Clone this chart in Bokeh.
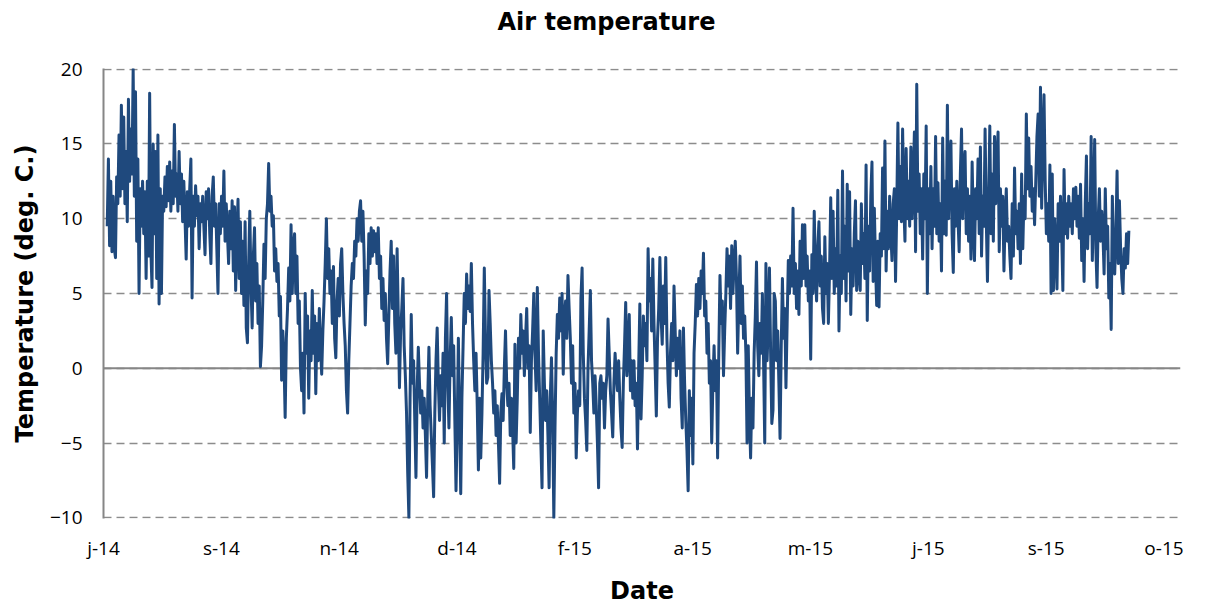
import pandas as pd
from bokeh.plotting import figure
from bokeh.models import Range1d, FixedTicker, Span, Title
from bokeh.embed import file_html
from bokeh.resources import INLINE

# ---- data: air temperature (deg. C), 12-hourly readings ----
start_time = "2014-07-30 14:00"
step = "12h"

seg_aug_sep_2014 = [9.5, 14.0, 8.2, 12.5, 7.8, 11.5, 8.0, 7.4, 12.8, 11.0,
    15.6, 11.5, 17.6, 12.0, 16.8, 11.0, 14.5, 9.8, 18.0, 12.5,
    16.0, 13.0, 20.0, 11.5, 18.5, 8.5, 14.0, 5.0, 12.0, 9.5,
    12.5, 9.0, 11.8, 6.0, 12.5, 7.5, 18.4, 8.0, 5.4, 15.0,
    9.0, 14.5, 6.0, 15.6, 4.3, 12.0, 5.0, 11.5, 10.5, 12.8,
    10.8, 13.5, 11.2, 13.8, 10.5, 13.2, 11.0, 16.3, 11.5, 13.0,
    10.5, 14.5, 11.0, 13.0, 9.8, 12.5, 10.0, 7.3, 11.8, 9.5,
    12.0, 14.0, 4.7, 11.5, 9.5, 12.2, 10.2, 11.5, 8.0, 11.0,
    9.8, 11.5, 9.5, 7.6, 11.8, 10.0, 12.0, 9.0, 7.0, 11.5,
    12.8, 9.5, 11.0, 8.0, 5.0, 11.0, 9.0, 11.5, 9.5, 13.2,
    8.5, 11.0, 9.0, 7.0]

seg_sep_nov_2014 = [10.5, 8.0, 11.2, 6.5, 10.8, 5.2, 9.0, 11.3, 6.0, 9.8,
    5.0, 8.5, 4.2, 9.8, 2.7, 1.7, 7.0, 10.5, 5.5, 2.7,
    7.5, 9.4, 4.5, 7.0, 3.0, 5.5, 0.1, 1.5, 4.5, 8.3,
    6.0, 10.0, 11.0, 13.7, 10.5, 11.5, 9.5, 10.2, 6.5, 8.0,
    5.8, 7.0, 3.5, 4.8, -0.8, 2.5, 0.5, -3.3, 2.0, 4.0,
    6.7, 4.5, 9.6, 5.0, 8.0, 9.0, 5.0, 7.5, 3.0, 4.5,
    0.0, -1.5, 1.0, -3.0, 5.0, 1.0, 3.5, -2.0, 2.5, 0.5,
    5.2, 1.0, 3.5, -1.7, 3.0, 0.5, 4.0, 1.5, -0.4, 2.5,
    4.5, 7.0, 10.0, 6.0, 8.0, 5.0, 6.5, 3.0, 6.8, 2.0,
    0.7, 4.5, 6.0, 3.5, 7.0, 8.0, 5.0, 3.0, 1.5, -1.5,
    -3.0, 0.5, 3.0, 5.5, 7.0, 6.0, 8.5, 7.5, 10.0, 8.5,
    10.5]

seg_nov_2014_jan_2015 = [11.2, 8.5, 10.5, 7.5, 2.9, 6.5, 5.0, 9.0, 7.0, 9.4,
    7.5, 9.2, 7.8, 9.0, 7.0, 9.4, 6.0, 7.5, 4.0, 6.0,
    3.2, 5.0, 2.0, 0.3, 3.5, 6.5, 8.5, 4.0, 7.5, 3.0,
    1.0, 8.0, 3.5, -1.3, 2.5, 4.0, 6.0, 1.5, -0.5, -3.0,
    -7.0, -10.0, -2.0, 3.6, -1.0, 0.5, -3.5, -7.3, -1.5, 1.4,
    -1.0, -3.0, -1.5, -4.0, -2.0, -4.5, -7.3, -2.0, 1.4, -2.5,
    -4.5, -6.5, -8.6, -3.0, 0.5, 2.7, -1.0, -3.5, -0.5, -2.5,
    1.0, -5.0, 2.0, 5.0, -1.0, -4.0, 0.5, 3.4, -0.5, 1.5,
    -3.5, -8.2, -4.0, 2.0, -3.0, -8.4, -2.0, 1.5, 5.0, 3.0,
    6.3, 4.0, 5.5, 3.8, 7.0, 3.0, 0.5, -1.5, 1.0, -2.5,
    -6.8, -2.0, -6.0, -3.0, 1.0, 6.7, 2.0, -1.0, -0.6, 5.2]

seg_jan_mar_2015 = [3.0, 0.5, -1.0, -3.0, -1.5, -4.5, -2.5, -5.0, -7.7, -3.0,
    -1.7, -3.5, 0.0, 2.5, -1.0, -2.5, -1.0, -4.5, -2.0, -4.0,
    -6.7, 1.6, -5.0, -2.0, 2.0, 0.0, 3.6, 1.0, 2.5, -0.5,
    2.0, 4.0, 0.0, 1.5, -4.3, 0.5, 2.5, 5.0, 1.0, -1.5,
    5.4, 1.0, -2.0, -5.0, -8.0, 2.5, -1.0, -3.5, -1.5, -4.5,
    -8.0, -2.0, 0.7, -3.0, -10.0, -4.0, 1.0, 3.6, 2.0, 4.7,
    2.5, 5.0, -0.4, 3.5, 4.5, 2.0, 6.2, 4.0, 2.0, -1.0,
    1.5, -3.0, -1.0, -6.0, -3.0, -1.5, -2.5, 4.7, 6.7, 1.0,
    -2.0, -3.5, -5.5, 0.0, 2.5, 5.2, 0.5, -1.0, -3.0, -0.5,
    -2.5, -5.0, -8.0, -1.0, -0.5, -2.0, -1.0, -4.0, -1.5, -0.5,
    3.3, 1.0, -1.5, -3.0, -4.6, -1.0, 1.0, -0.5, -1.5, 0.5]

seg_mar_apr_2015 = [-2.0, -4.0, -5.3, -1.0, 1.5, 4.4, -0.5, 1.0, 3.6, -1.5,
    0.5, -2.0, 0.5, -2.5, -1.0, -5.4, 0.0, 4.3, -3.4, -0.5,
    3.5, 1.5, 3.0, 0.5, 8.0, 4.5, 6.0, 2.5, 7.3, 3.0,
    0.0, -3.2, 2.0, 4.0, 7.4, 3.5, 1.6, 5.5, 3.0, 7.4,
    2.0, -1.0, -2.6, 1.0, 3.0, 0.5, 5.5, 2.5, -0.5, 2.0,
    0.0, 2.5, -2.0, -4.0, 2.7, -1.0, -3.5, -5.5, -8.2, -1.5,
    -4.5, -2.0, -6.4, 1.0, 3.0, 5.6, 3.5, 6.0, 4.0, 6.5,
    5.0, 7.7, 3.5, 4.5, 1.0, 3.0, -1.0, 0.5, -5.0, -1.0,
    1.5, -1.5, 0.5, -6.0, 1.0, 6.2, 3.0, 4.5, -0.5, 2.5,
    5.0, 8.0, 5.5, 7.5, 4.0, 8.2, 5.0, 7.0, 8.5, 6.0,
    1.0, 4.5, 7.5, 3.0, 5.5, 2.0, 3.5, 1.0, -5.0, 1.5]

seg_may_jul_2015 = [-3.0, -6.0, -2.0, -4.0, 1.0, 3.5, 7.1, 1.5, -0.5, 3.0,
    1.0, 5.0, 0.5, -5.0, 7.0, 0.5, 3.0, 6.7, 1.0, -3.7,
    -2.8, 5.0, 4.5, 0.5, 2.5, -1.0, -4.7, 1.5, 6.0, 2.0,
    4.0, -1.3, 3.0, 7.2, 5.0, 7.5, 5.5, 10.7, 5.0, 7.0,
    4.0, 6.5, 3.6, 8.5, 5.5, 9.6, 6.0, 9.6, 5.5, 7.5,
    4.5, 6.5, 0.6, 7.6, 5.0, 10.5, 6.5, 4.5, 8.0, 9.8,
    5.5, 7.5, 4.0, 3.0, 8.8, 5.0, 7.0, 3.0, 6.5, 11.4,
    6.0, 10.5, 5.0, 8.0, 5.5, 11.9, 2.5, 7.5, 5.0, 13.2,
    6.0, 9.5, 4.5, 12.3, 6.5, 11.8, 3.6, 8.0, 5.5, 9.0,
    11.2, 5.2, 8.5, 6.5, 5.2, 11.0, 7.0, 9.0, 6.0, 13.6,
    3.2, 9.5, 6.5, 11.5, 13.8, 5.8, 10.7, 7.0, 4.2, 8.5]

seg_jul_aug_2015 = [4.1, 9.0, 7.5, 13.4, 8.0, 15.2, 6.5, 10.5, 8.0, 11.5,
    9.0, 7.2, 11.0, 12.0, 5.8, 10.5, 16.4, 10.0, 13.5, 9.8,
    16.0, 11.0, 8.5, 14.7, 10.0, 12.5, 9.5, 14.8, 10.0, 12.5,
    15.8, 7.8, 19.0, 10.5, 13.0, 9.0, 12.0, 7.3, 13.0, 10.0,
    16.2, 5.0, 12.0, 9.0, 13.5, 8.0, 12.0, 9.5, 15.5, 9.0,
    12.4, 8.5, 11.0, 6.5, 15.4, 9.0, 12.5, 8.9, 17.6, 10.0,
    13.0, 15.2, 9.0, 6.4, 12.0, 9.5, 12.5, 10.0, 7.8, 13.0,
    16.0, 10.0, 13.5, 14.5, 9.0, 12.0, 8.5, 11.5, 7.3, 13.8,
    9.5, 7.2, 12.0, 10.0, 14.0, 9.0, 14.8, 7.5, 11.5, 9.5,
    16.0, 10.0, 5.8, 11.0, 16.2, 9.0, 13.0, 8.5, 15.5, 11.0,
    14.0, 15.8, 7.8, 12.0, 9.5, 11.5, 6.5, 10.0, 12.0, 8.5]

seg_sep_oct_2015 = [9.5, 7.5, 6.0, 11.0, 7.5, 13.4, 9.0, 10.5, 8.0, 11.0,
    7.0, 13.0, 8.0, 11.5, 10.0, 17.0, 12.0, 15.4, 11.5, 13.5,
    10.5, 12.0, 9.6, 12.5, 15.5, 17.0, 11.5, 18.8, 10.7, 15.0,
    18.3, 12.5, 9.0, 11.0, 8.5, 13.6, 5.0, 13.0, 5.2, 10.0,
    8.0, 5.3, 11.0, 8.5, 11.5, 9.0, 5.2, 13.3, 9.0, 11.0,
    8.7, 11.5, 9.5, 11.0, 9.0, 12.0, 10.0, 12.1, 9.5, 11.5,
    8.7, 12.3, 7.2, 10.0, 5.8, 11.0, 14.2, 8.0, 11.0, 9.0,
    15.5, 7.2, 11.0, 15.3, 8.0, 5.4, 10.0, 12.0, 8.5, 10.5,
    9.0, 6.3, 12.0, 8.0, 9.5, 4.7, 7.0, 2.6, 11.5, 7.5,
    6.3, 9.0, 13.2, 7.0, 11.2, 8.0, 6.0, 5.0, 8.0, 6.7,
    9.0, 7.0, 9.2]

tick_dates = ["2014-07-29", "2014-09-17", "2014-11-06", "2014-12-26", "2015-02-14",
              "2015-04-05", "2015-05-25", "2015-07-14", "2015-09-02", "2015-10-22"]
tick_labels = ["j-14", "s-14", "n-14", "d-14", "f-15", "a-15", "m-15", "j-15", "s-15", "o-15"]
y_ticks = [-10, -5, 0, 5, 10, 15, 20]
x_axis_end = "2015-10-29"
chart_title = "Air temperature"

temps = (seg_aug_sep_2014 + seg_sep_nov_2014 + seg_nov_2014_jan_2015 + seg_jan_mar_2015
         + seg_mar_apr_2015 + seg_may_jul_2015 + seg_jul_aug_2015 + seg_sep_oct_2015)
dates = pd.date_range(start_time, periods=len(temps), freq=step)


def ms(d):
    return float(pd.Timestamp(d).value // 10**6)


tick_ms = [ms(d) for d in tick_dates]

p = figure(width=1213, height=608, x_axis_type="datetime",
           output_backend="svg", toolbar_location=None,
           x_range=Range1d(tick_ms[0], ms(x_axis_end)), y_range=Range1d(-10.05, 20.05),
           min_border_left=103, min_border_right=33, min_border_top=68, min_border_bottom=90)
p.background_fill_color = "white"
p.border_fill_color = "white"
p.outline_line_color = None

# spacer panel between the frame and the title, then the title itself (outermost)
spacer = Title(text=" ", text_font_size="1px", standoff=26)
p.add_layout(spacer, "above")
title = Title(text=chart_title, text_font="DejaVu Sans", text_font_style="bold",
              text_font_size="24px", text_color="#000000", align="left", offset=394,
              vertical_align="top", standoff=4)
p.add_layout(title, "above")

# grid
p.xgrid.visible = False
p.ygrid.grid_line_color = "#8c8c8c"
p.ygrid.grid_line_dash = "8 5"
p.ygrid.grid_line_width = 1.6

zero = Span(location=0, dimension="width", line_color="#868686", line_width=2, level="underlay")
p.add_layout(zero)

# y axis
p.yaxis.ticker = FixedTicker(ticks=y_ticks)
p.yaxis.axis_line_color = "#868686"
p.yaxis.axis_line_width = 2
p.yaxis.major_tick_line_color = None
p.yaxis.major_tick_out = 0
p.yaxis.major_tick_in = 0
p.yaxis.minor_tick_line_color = None
p.yaxis.major_label_text_font = "Open Sans"
p.yaxis.major_label_text_font_size = "19px"
p.yaxis.major_label_text_color = "#000000"
p.yaxis.major_label_standoff = 21
p.yaxis.axis_label = "Temperature (deg. C.)"
p.yaxis.axis_label_text_font = "DejaVu Sans"
p.yaxis.axis_label_text_font_style = "bold"
p.yaxis.axis_label_text_font_size = "24px"
p.yaxis.axis_label_text_color = "#000000"
p.yaxis.axis_label_standoff = 8

# x axis
p.xaxis.ticker = FixedTicker(ticks=tick_ms)
p.xaxis.major_label_overrides = {t: lab for t, lab in zip(tick_ms, tick_labels)}
p.xaxis.axis_line_color = None
p.xaxis.major_tick_line_color = None
p.xaxis.major_tick_out = 0
p.xaxis.major_tick_in = 0
p.xaxis.minor_tick_line_color = None
p.xaxis.major_label_text_font = "Open Sans"
p.xaxis.major_label_text_font_size = "19px"
p.xaxis.major_label_text_color = "#000000"
p.xaxis.major_label_standoff = 16
p.xaxis.axis_label = "Date"
p.xaxis.axis_label_text_font = "DejaVu Sans"
p.xaxis.axis_label_text_font_style = "bold"
p.xaxis.axis_label_text_font_size = "24px"
p.xaxis.axis_label_text_color = "#000000"
p.xaxis.axis_label_standoff = 13

p.line(dates, temps, line_color="#1F497D", line_width=3, line_join="round")

open("out.html", "w").write(file_html(p, INLINE))
